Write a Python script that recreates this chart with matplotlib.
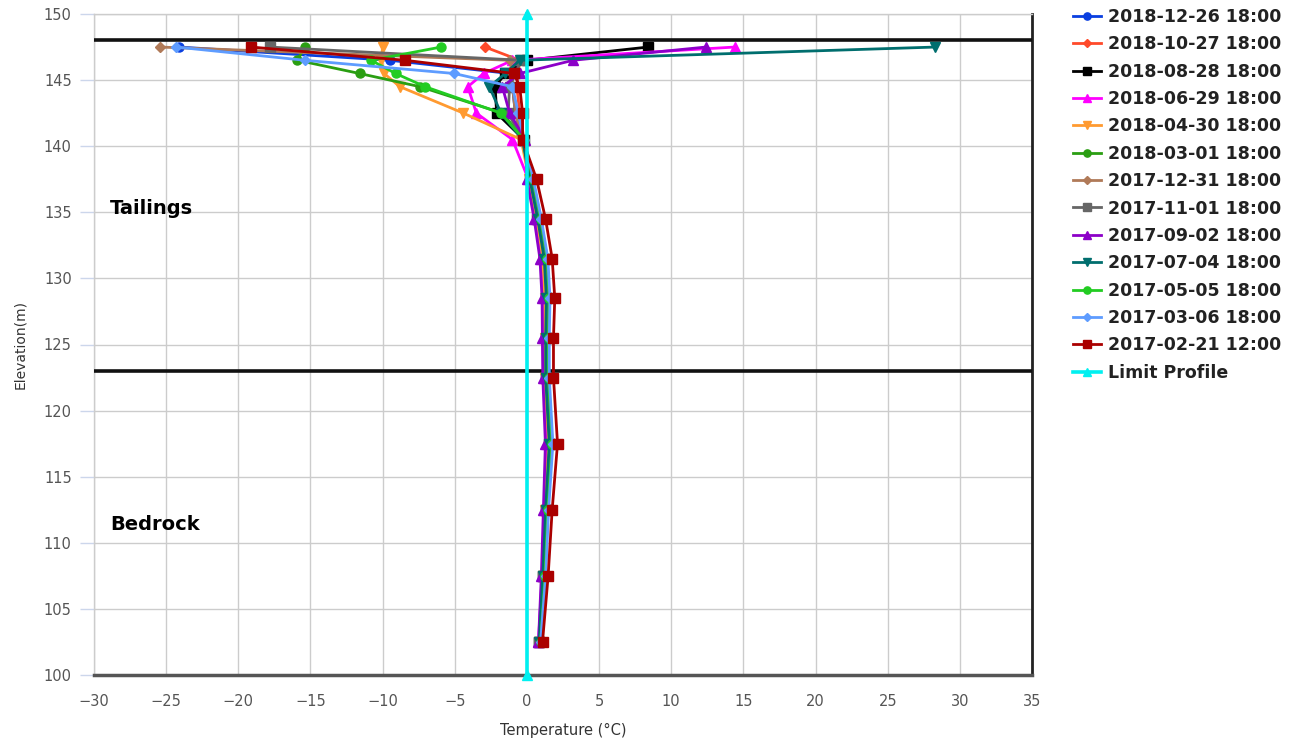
import matplotlib
matplotlib.use("Agg")
import matplotlib.pyplot as plt

plt.rcParams['font.family'] = ['DejaVu Sans']

elevations = [147.5, 146.5, 145.5, 144.5, 142.5, 140.5, 137.5, 134.5, 131.5,
              128.5, 125.5, 122.5, 117.5, 112.5, 107.5, 102.5]

labels = ["2018-12-26 18:00", "2018-10-27 18:00", "2018-08-28 18:00",
          "2018-06-29 18:00", "2018-04-30 18:00", "2018-03-01 18:00",
          "2017-12-31 18:00", "2017-11-01 18:00", "2017-09-02 18:00",
          "2017-07-04 18:00", "2017-05-05 18:00", "2017-03-06 18:00",
          "2017-02-21 12:00"]

t_2018_12_26 = [-24.1, -9.5, -1.2, -1.0, -0.8, -0.3, 0.3, 0.85, 1.3, 1.45, 1.45, 1.45, 1.7, 1.4, 1.2, 0.9]
t_2018_10_27 = [-2.9, -0.5, -0.6, -0.7, -0.5, -0.2, 0.25, 0.8, 1.25, 1.4, 1.4, 1.4, 1.65, 1.35, 1.15, 0.9]
t_2018_08_28 = [8.4, 0.0, -1.5, -2.2, -2.1, -0.2, 0.2, 0.7, 1.15, 1.3, 1.3, 1.3, 1.55, 1.3, 1.1, 0.85]
t_2018_06_29 = [14.4, -1.0, -3.0, -4.1, -3.5, -1.0, 0.1, 0.6, 1.0, 1.15, 1.15, 1.2, 1.4, 1.2, 1.05, 0.8]
t_2018_04_30 = [-10.0, -10.1, -9.9, -8.8, -4.4, -0.4, 0.15, 0.7, 1.1, 1.25, 1.25, 1.25, 1.5, 1.25, 1.1, 0.85]
t_2018_03_01 = [-15.4, -15.9, -11.6, -7.4, -1.7, -0.2, 0.35, 0.9, 1.35, 1.5, 1.45, 1.45, 1.7, 1.4, 1.2, 0.9]
t_2017_12_31 = [-25.4, -1.2, -1.0, -1.0, -0.8, -0.3, 0.3, 0.85, 1.3, 1.45, 1.4, 1.4, 1.65, 1.35, 1.15, 0.9]
t_2017_11_01 = [-17.8, -0.4, -0.8, -1.2, -1.3, -0.3, 0.25, 0.8, 1.25, 1.4, 1.35, 1.35, 1.6, 1.3, 1.1, 0.85]
t_2017_09_02 = [12.4, 3.2, -0.5, -1.7, -1.2, -0.1, 0.0, 0.5, 0.9, 1.05, 1.07, 1.1, 1.28, 1.14, 1.0, 0.8]
t_2017_07_04 = [28.3, -0.5, -1.5, -2.6, -1.8, -0.3, 0.2, 0.75, 1.2, 1.35, 1.3, 1.3, 1.55, 1.3, 1.1, 0.85]
t_2017_05_05 = [-5.95, -10.8, -9.1, -7.05, -1.8, -0.2, 0.4, 0.95, 1.4, 1.55, 1.5, 1.5, 1.75, 1.45, 1.25, 0.95]
t_2017_03_06 = [-24.3, -15.4, -5.05, -1.0, -0.6, -0.2, 0.45, 1.0, 1.45, 1.6, 1.55, 1.55, 1.8, 1.5, 1.3, 0.95]
t_2017_02_21 = [-19.1, -8.45, -0.9, -0.5, -0.3, -0.3, 0.67, 1.29, 1.75, 1.93, 1.84, 1.84, 2.12, 1.75, 1.47, 1.08]

series = [t_2018_12_26, t_2018_10_27, t_2018_08_28, t_2018_06_29, t_2018_04_30,
          t_2018_03_01, t_2017_12_31, t_2017_11_01, t_2017_09_02, t_2017_07_04,
          t_2017_05_05, t_2017_03_06, t_2017_02_21]

colors = ["#0a3fe0", "#ff4a2a", "#000000", "#ff00ff", "#ff9a30", "#2a9e12",
          "#b07a58", "#666666", "#8c00c8", "#006e6e", "#22cc22", "#5e9cff", "#aa0000"]
markers = ["o", "D", "s", "^", "v", "o", "D", "s", "^", "v", "o", "D", "s"]
msizes = [6.5, 5, 6.5, 7, 7, 6.5, 5, 6.5, 7, 7, 6.5, 5, 6.5]

limit_label = "Limit Profile"
limit_temps = [0, 0]
limit_elev = [100, 150]

boundary_elevs = [148, 123]
zone_labels = ["Tailings", "Bedrock"]
zone_label_y = [135.3, 111.4]

fig = plt.figure(figsize=(12.96, 7.46), dpi=100)
ax = fig.add_axes([94/1296, 1-675/746, (1032-94)/1296, (675-14)/746])

for b in boundary_elevs:
    ax.axhline(b, color="#111111", lw=2.6, zorder=3)

for t, lab, c, m, ms in zip(series, labels, colors, markers, msizes):
    ax.plot(t, elevations, color=c, marker=m, markersize=ms, lw=2,
            label=lab, zorder=4, clip_on=False)

ax.plot(limit_temps, limit_elev, color="#00f0f0", marker="^", markersize=7,
        lw=2.6, label=limit_label, zorder=5, clip_on=False)

for name, yy in zip(zone_labels, zone_label_y):
    ax.text(-28.9, yy, name, fontsize=14, fontweight="bold", color="black",
            va="center", ha="left", zorder=6)

ax.set_xlim(-30, 35)
ax.set_ylim(100, 150)
ax.set_xticks(range(-30, 36, 5))
ax.set_yticks(range(100, 151, 5))
ax.grid(True, color="#cccccc", lw=1)
ax.set_axisbelow(True)

ax.tick_params(axis="x", length=0, pad=14, labelsize=10.5, labelcolor="#555555")
ax.tick_params(axis="y", length=10, width=1, color="#ccd6eb", pad=6,
               labelsize=10.5, labelcolor="#555555")

for s in ["left", "top"]:
    ax.spines[s].set_color("#cccccc")
    ax.spines[s].set_linewidth(1)
ax.spines["bottom"].set_color("#555555")
ax.spines["bottom"].set_linewidth(2.5)
ax.spines["right"].set_color("#222222")
ax.spines["right"].set_linewidth(2)

ax.set_xlabel("Temperature (°C)", fontsize=10.5, color="#333333", labelpad=10)
ax.set_ylabel("Elevation(m)", fontsize=10, color="#333333", labelpad=12)

handles, labs = ax.get_legend_handles_labels()
leg = fig.legend(handles, labs, loc="upper left",
                 bbox_to_anchor=(1066/1296, 1-1/746), frameon=False,
                 prop={"size": 12.5, "weight": "bold"}, labelspacing=0.54,
                 handlelength=1.6, handletextpad=0.4, borderaxespad=0,
                 markerscale=0.8)
for txt in leg.get_texts():
    txt.set_color("#222222")

fig.savefig("out.png", dpi=100)
